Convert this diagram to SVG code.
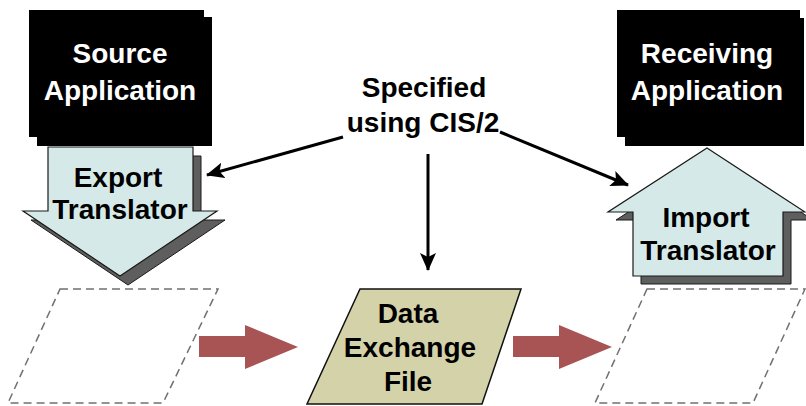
<svg xmlns="http://www.w3.org/2000/svg" width="806" height="406" viewBox="0 0 806 406">
  <defs>
    <style>
      .lbl { font-family: "Liberation Sans", Arial, sans-serif; font-weight: bold; font-size: 28px; text-anchor: middle; }
      .wht { fill: #ffffff; }
      .blk { fill: #000000; }
      .app { fill: #000000; }
      .xlat { fill: #D5EAE8; stroke: #1a1a1a; stroke-width: 1.2; }
      .shadow { fill: #5e5e5e; stroke: #1a1a1a; stroke-width: 1; }
      .slot { fill: none; stroke: #707070; stroke-width: 1.5; stroke-dasharray: 8 5; }
      .file { fill: #D4D2A8; stroke: #111111; stroke-width: 1.5; }
      .flow { fill: #A85454; }
      .conn { stroke: #000000; stroke-width: 3; fill: none; marker-end: url(#head); }
    </style>
    <marker id="head" markerUnits="userSpaceOnUse" markerWidth="18" markerHeight="16" viewBox="0 0 18 16" refX="17" refY="8" orient="auto">
      <path d="M0,0 L18,8 L0,16 L4,8 Z" fill="#000000"/>
    </marker>
  </defs>

  <!-- dashed placeholders under each translator -->
  <g id="source-slot">
    <polygon class="slot" points="60,289 218,289 163,403 8,403"/>
  </g>
  <g id="target-slot">
    <polygon class="slot" points="647,289 805,289 753,403 595,403"/>
  </g>

  <!-- source application -->
  <g id="source-app">
    <rect class="app" x="37" y="17" width="175" height="129"/>
    <rect class="app" x="29" y="10" width="175" height="127"/>
    <text class="lbl wht" x="120" y="63">Source</text>
    <text class="lbl wht" x="120" y="100">Application</text>
  </g>

  <!-- export translator, arrow pointing down -->
  <g id="export-translator">
    <polygon class="shadow" transform="translate(8,9)" points="48,147 193,147 193,211 217,211 120,276 23,211 48,211"/>
    <polygon class="xlat" points="48,147 193,147 193,211 217,211 120,276 23,211 48,211"/>
    <text class="lbl blk" x="118" y="187">Export</text>
    <text class="lbl blk" x="120" y="219">Translator</text>
  </g>

  <!-- receiving application -->
  <g id="receiving-app">
    <rect class="app" x="625" y="18" width="179" height="128"/>
    <rect class="app" x="617" y="10" width="183" height="127"/>
    <text class="lbl wht" x="707" y="63">Receiving</text>
    <text class="lbl wht" x="707" y="100">Application</text>
  </g>

  <!-- import translator, arrow pointing up -->
  <g id="import-translator">
    <polygon class="shadow" transform="translate(8,8)" points="707,148 805,212 783,212 783,276 633,276 633,212 608,212"/>
    <polygon class="xlat" points="707,148 805,212 783,212 783,276 633,276 633,212 608,212"/>
    <text class="lbl blk" x="706" y="227">Import</text>
    <text class="lbl blk" x="708" y="260">Translator</text>
  </g>

  <!-- exchange file -->
  <g id="data-file">
    <polygon class="file" points="360,289 521,289 482,404 307,404"/>
    <text class="lbl blk" x="408" y="323">Data</text>
    <text class="lbl blk" x="410" y="357">Exchange</text>
    <text class="lbl blk" x="408" y="391">File</text>
  </g>

  <!-- note -->
  <g id="spec-note">
    <text class="lbl blk" x="424" y="97">Specified</text>
    <text class="lbl blk" x="423" y="132">using CIS/2</text>
  </g>

  <!-- connectors -->
  <g id="connectors">
    <line class="conn" x1="343" y1="137" x2="207" y2="175"/>
    <line class="conn" x1="428" y1="154" x2="428" y2="270"/>
    <line class="conn" x1="500" y1="132" x2="628" y2="185"/>
    <polygon class="flow" points="199,336 245,336 245,325 298,347 245,369 245,357 199,357"/>
    <polygon class="flow" points="513,336 559,336 559,325 612,347 559,369 559,357 513,357"/>
  </g>
</svg>
